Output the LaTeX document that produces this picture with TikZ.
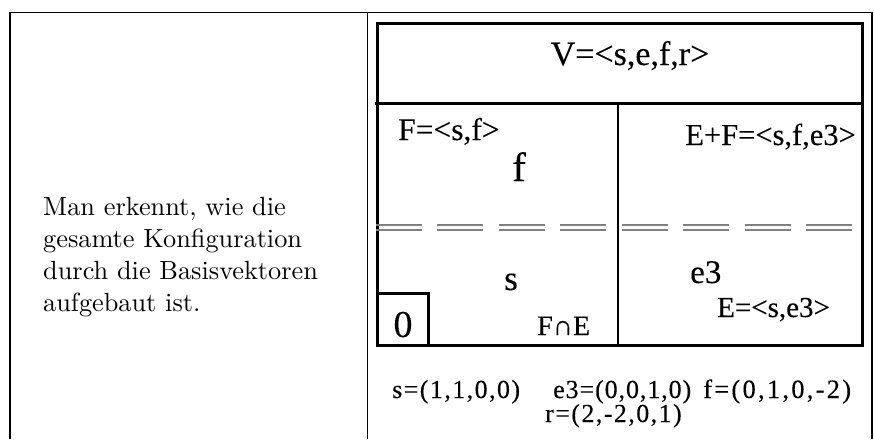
\documentclass[tikz,border=0pt]{standalone}
\usepackage{fontspec}
\newfontfamily\tnr{Liberation Serif}[FakeBold=0.2]
\newfontfamily\tnrsp{Liberation Serif}[FakeBold=0.2,LetterSpace=5.5]
\newfontfamily\tnrspn{Liberation Serif}[FakeBold=0.2,LetterSpace=3.5]
\newfontfamily\tnrspw{Liberation Serif}[FakeBold=0.2,LetterSpace=8.5]
\newfontfamily\lmten{lmroman10-regular.otf}
\newcommand{\fs}[1]{\fontsize{#1}{#1}\selectfont}
\begin{document}
\begin{tikzpicture}[x=1pt,y=-1pt,
  tableline/.style={line width=1.3pt},
  boxline/.style={line width=3pt},
  dbl/.style={draw=black!50, line width=1.8pt, dash pattern=on 46pt off 15.3pt},
  lft/.style={inner sep=0pt, anchor=base west, font=\lmten\fontsize{26.3}{31.6}\selectfont},
  tl/.style={inner sep=0pt, font=\tnr},
]
\useasboundingbox (0,0) rectangle (874,439);
% table
\draw[tableline] (10,439) -- (10,12.5) -- (872,12.5) -- (872,439);
\draw[tableline] (367.5,12.5) -- (367.5,439);
% left text
\node[lft] (l1) at (43,215) {Man erkennt, wie die};
\node[lft] (l2) at (43,247) {gesamte Konfiguration};
\node[lft] (l3) at (43,279) {durch die Basisvektoren};
\node[lft] (l4) at (43,311) {aufgebaut ist.};
% diagram box
\draw[boxline] (377.5,23.5) rectangle (862,345);
\draw[boxline] (375,103.5) -- (863.5,103.5);
\draw[line width=2.5pt] (618,103.5) -- (618,345);
\draw[boxline] (377.5,293) rectangle (428,345);
% double dashed lines
\foreach \yy in {225,230} {
  \draw[dbl] (376,\yy) -- (607,\yy);
  \draw[dbl] (622,\yy) -- (853,\yy);
}
% labels
\node[tl, anchor=base, font=\tnr\fs{34}] (V) at (630,65) {V=<s,e,f,r>};
\node[tl, anchor=base west, font=\tnr\fs{31.5}] (F) at (398,140) {F=<s,f>};
\node[tl, anchor=base, font=\tnr\fs{41}] (f) at (519,181) {f};
\node[tl, anchor=base east, font=\tnr\fs{30.5}] (EF) at (856,145) {E+F=<s,f,e3>};
\node[tl, anchor=base, font=\tnr\fs{35}] (s) at (511,290) {s};
\node[tl, anchor=base west, font=\tnr\fs{28}] (FE) at (537,335) {F∩E};
\node[tl, anchor=base, font=\tnr\fs{38}] (zero) at (403,337) {0};
\node[tl, anchor=base west, font=\tnr\fs{33}] (e3) at (690,283) {e3};
\node[tl, anchor=base west, font=\tnr\fs{29}] (E) at (717,317) {E=<s,e3>};
\node[tl, anchor=base west, font=\tnrsp\fs{26}] (vs) at (392,398) {s=(1,1,0,0)};
\node[tl, anchor=base west, font=\tnrspn\fs{26}] (ve) at (553,398) {e3=(0,0,1,0)};
\node[tl, anchor=base west, font=\tnrspw\fs{26.5}] (vf) at (703,398) {f=(0,1,0,-2)};
\node[tl, anchor=base west, font=\tnrsp\fs{26}] (vr) at (545,422) {r=(2,-2,0,1)};
\end{tikzpicture}
\end{document}
